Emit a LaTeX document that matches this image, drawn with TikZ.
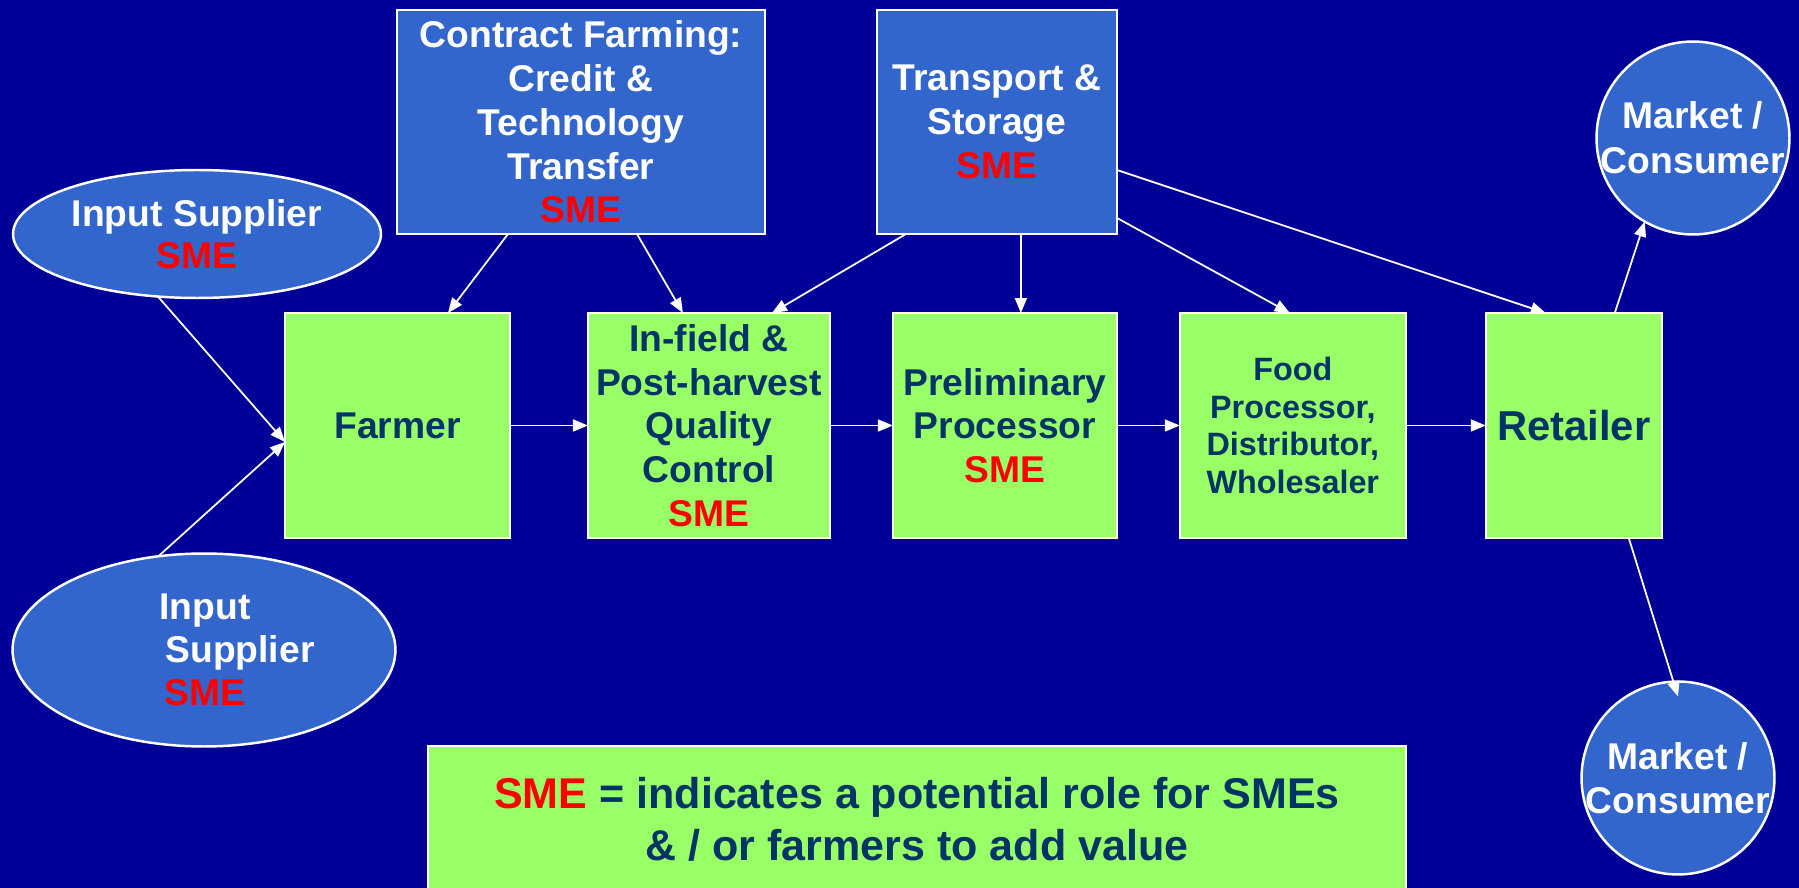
\documentclass[tikz,border=0pt]{standalone}
\usepackage{fontspec}
\setmainfont{Liberation Sans}
\usepackage{xcolor}
\definecolor{deepNavy}{HTML}{000099}
\definecolor{boxBlue}{HTML}{3366CC}
\definecolor{limeGreen}{HTML}{99FF66}
\definecolor{inkBlue}{HTML}{003366}
\definecolor{smeRed}{HTML}{FF0000}
\usepackage{tikz}
\usetikzlibrary{
    shapes.geometric,
    arrows.meta,
    positioning
}
\newcommand{\sme}{\textcolor{smeRed}{SME}}
\tikzset{
    % Base style for all nodes
    chain base/.style={
        align=center,
        inner sep=0pt,
        outer sep=0pt,
        draw=white,
        line width=1.4pt,
    },
    % Green stages of the supply chain
    stage/.style={
        chain base,
        rectangle,
        fill=limeGreen,
        text=inkBlue,
        minimum height=4.5cm,
        font=\bfseries\fontsize{21.2}{24.9}\selectfont,
    },
    % Blue service boxes above the chain
    service/.style={
        chain base,
        rectangle,
        fill=boxBlue,
        text=white,
        minimum height=4.48cm,
        font=\bfseries\fontsize{21.2}{24.9}\selectfont,
    },
    % Suppliers feeding the farmer
    supplier/.style={
        chain base,
        ellipse,
        fill=boxBlue,
        text=white,
        font=\bfseries\fontsize{21.2}{23.8}\selectfont,
    },
    % End markets
    market/.style={
        chain base,
        circle,
        inner sep=-0.15cm,
        fill=boxBlue,
        text=white,
        minimum size=3.86cm,
        font=\bfseries\fontsize{21.2}{25.4}\selectfont,
    },
    % Key box at the bottom
    note/.style={
        chain base,
        rectangle,
        fill=limeGreen,
        text=inkBlue,
        minimum width=19.56cm,
        minimum height=2.92cm,
        font=\bfseries\fontsize{24.5}{29.5}\selectfont,
    },
    % Plain white arrows
    arrow/.style={
        -{Triangle[length=0.3cm, width=0.24cm]},
        line width=1pt,
        draw=white,
    },
}

\begin{document}
\begin{tikzpicture}[x=0.02cm, y=-0.02cm]
    \fill[deepNavy] (0,0) rectangle (1799,888);
    \useasboundingbox (0,0) rectangle (1799,888);

    % chain of stages
    \node (farmer) [stage, minimum width=4.5cm] at (397.5,425.5) {Farmer};
    \node (infield) [stage, minimum width=4.84cm, right=1.56cm of farmer] {In-field \&\\Post-harvest\\Quality\\Control\\\sme};
    \node (prelim) [stage, minimum width=4.48cm, right=1.26cm of infield] {Preliminary\\Processor\\\sme};
    \node (food) [stage, minimum width=4.52cm, right=1.26cm of prelim,
        font=\bfseries\fontsize{18.4}{21.5}\selectfont] {Food\\Processor,\\Distributor,\\Wholesaler};
    \node (retailer) [stage, minimum width=3.52cm, right=1.6cm of food,
        font=\bfseries\fontsize{23.8}{28}\selectfont] {Retailer};

    % services and suppliers
    \node (contract) [service, minimum width=7.36cm] at (581,122) {Contract Farming:\\Credit \&\\Technology\\Transfer\\\sme};
    \node (transport) [service, minimum width=4.8cm] at (997,122) {Transport \&\\Storage\\\sme};
    \node (input1) [supplier, minimum width=7.36cm, minimum height=2.56cm] at (197,234) {Input Supplier\\\sme};
    \node (input2) [supplier, minimum width=7.66cm, minimum height=3.86cm, align=left,
        font=\bfseries\fontsize{21.2}{24.4}\selectfont] at (204,650)
        {\hspace*{1.32cm}Input\\\hspace*{1.44cm}Supplier\\\hspace*{1.42cm}\sme};

    % markets
    \node (market1) [market] at (1693,138) {Market /\\Consumer};
    \node (market2) [market] at (1678,778) {Market /\\Consumer};

    \node (key) [note] at (917,819) {\sme{} = indicates a potential role for SMEs\\\& / or farmers to add value};

    \draw [arrow] (farmer) -- (infield);
    \draw [arrow] (infield) -- (prelim);
    \draw [arrow] (prelim) -- (food);
    \draw [arrow] (food) -- (retailer);

    \draw [arrow] (input1.238) -- ([yshift=-0.33cm]farmer.west);
    \draw [arrow] (input2.116) -- ([yshift=-0.33cm]farmer.west);

    \draw [arrow] ([xshift=-1.46cm]contract.south) -- ([xshift=1.01cm]farmer.north);
    \draw [arrow] ([xshift=1.12cm]contract.south) -- ([xshift=-0.52cm]infield.north);

    \draw [arrow] ([xshift=-1.82cm]transport.south) -- ([xshift=1.26cm]infield.north);
    \draw [arrow] ([xshift=0.48cm]transport.south) -- ([xshift=0.32cm]prelim.north);
    \draw [arrow] ([yshift=0.32cm]transport.south east) -- ([xshift=-0.06cm]food.north);
    \draw [arrow] ([yshift=-0.96cm]transport.east) -- ([xshift=-0.56cm]retailer.north);

    \draw [arrow] ([xshift=0.82cm]retailer.north) -- (market1.240);
    \draw [arrow] ([xshift=1.1cm]retailer.south) -- ([yshift=-0.3cm]market2.north);
\end{tikzpicture}
\end{document}
